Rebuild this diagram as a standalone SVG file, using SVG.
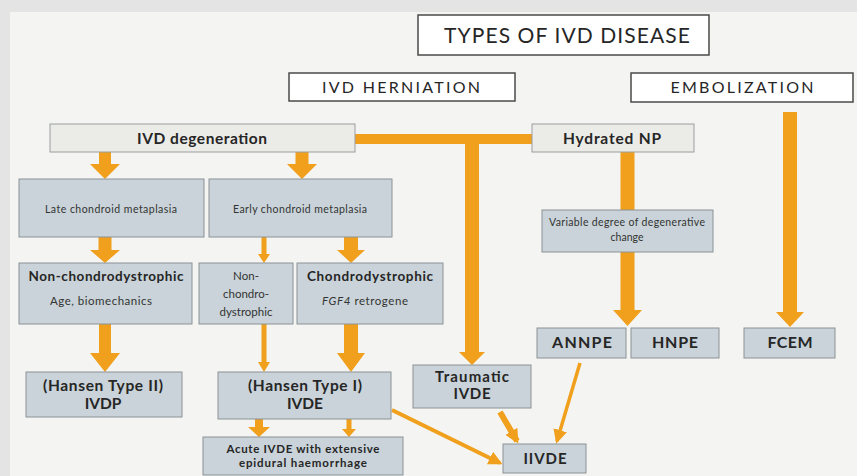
<svg xmlns="http://www.w3.org/2000/svg" width="857" height="476" viewBox="0 0 857 476">
<defs>
<marker id="ah" viewBox="0 0 10 10" refX="8" refY="5" markerUnits="userSpaceOnUse" markerWidth="14" markerHeight="14" orient="auto">
<path d="M0,0 L10,5 L0,10 z" fill="#f0a01c"/>
</marker>
</defs>
<style>
text{font-family:Lato,"Open Sans","DejaVu Sans",sans-serif;fill:#262626;text-anchor:middle}
.title{fill:#ffffff;stroke:#4a4a4a;stroke-width:1.5}
.tt{font-size:21px}
.ht{font-size:16px}
.lite{fill:#ebece8;stroke:#9a9d9f;stroke-width:1}
.box{fill:#c9d3d9;stroke:#8b9296;stroke-width:1}
.b{font-weight:bold}
.s{font-size:10.5px;fill:#333}
.m{font-size:11.5px;fill:#333}
.arr{fill:#f0a01c}
.ln{stroke:#f0a01c;fill:none;marker-end:url(#ah)}
</style>
<rect x="0" y="0" width="857" height="476" fill="#e4e4e4"/>
<rect x="10" y="12" width="847" height="464" fill="#f4f4f2"/>

<g id="connectors">
<rect class="arr" x="355" y="134" width="177" height="10"/>
<polygon class="arr" points="99,152 111,152 111,164 120,164 105,179 90,164 99,164"/>
<polygon class="arr" points="295.5,152 308.5,152 308.5,164 317,164 302,179 287,164 295.5,164"/>
<polygon class="arr" points="98.5,237 111.5,237 111.5,250 120,250 105,263 90,250 98.5,250"/>
<polygon class="arr" points="261.5,237 266.5,237 266.5,254 270,254 264,263 258,254 261.5,254"/>
<polygon class="arr" points="344,237 358,237 358,250 365,250 351,263 337,250 344,250"/>
<polygon class="arr" points="99,324 111,324 111,353 120,353 105,372 90,353 99,353"/>
<polygon class="arr" points="261.5,324 266.5,324 266.5,362 270,362 264,372 258,362 261.5,362"/>
<polygon class="arr" points="344,324 358,324 358,353 365,353 351,372 337,353 344,353"/>
<polygon class="arr" points="255,419 263,419 263,427 270,427 259,437 248,427 255,427"/>
<polygon class="arr" points="346.5,419 351.5,419 351.5,429 356,429 349,437 342,429 346.5,429"/>
<polygon class="arr" points="465,134 479,134 479,352 485,352 472,365 459,352 465,352"/>
<rect class="arr" x="620.5" y="152" width="14" height="58"/>
<polygon class="arr" points="620.5,252 634.5,252 634.5,310 642,310 627.5,326 613,310 620.5,310"/>
<polygon class="arr" points="783,112 797,112 797,312 804,312 790,327 776,312 783,312"/>
<line class="ln" x1="500" y1="412" x2="517" y2="441" stroke-width="6"/>
<line class="ln" x1="580" y1="363" x2="557" y2="441" stroke-width="3.5"/>
<line class="ln" x1="392" y1="410" x2="500" y2="463" stroke-width="4"/>
</g>

<g id="types"><rect class="title" x="418" y="15" width="291" height="40"/><text class="tt" x="567" y="43" textLength="246">TYPES OF IVD DISEASE</text></g>
<g id="herniation"><rect class="title" x="289" y="73" width="226" height="28"/><text class="ht" x="401" y="93" textLength="158">IVD HERNIATION</text></g>
<g id="embolization"><rect class="title" x="631" y="73" width="222" height="29"/><text class="ht" x="742" y="93" textLength="143">EMBOLIZATION</text></g>

<g id="ivd-degeneration"><rect class="lite" x="50" y="124" width="305" height="28"/><text class="b" x="202" y="144" font-size="15.5" textLength="130">IVD degeneration</text></g>
<g id="hydrated-np"><rect class="lite" x="532" y="124" width="162" height="28"/><text class="b" x="612" y="144" font-size="15.5" textLength="98">Hydrated NP</text></g>

<g id="late"><rect class="box" x="19" y="179" width="185" height="58"/><text class="s" x="111" y="213" textLength="132">Late chondroid metaplasia</text></g>
<g id="early"><rect class="box" x="209" y="179" width="183" height="58"/><text class="s" x="300" y="213" textLength="134">Early chondroid metaplasia</text></g>

<g id="non-chondrodystrophic"><rect class="box" x="19" y="263" width="173" height="61"/><text class="b" x="106" y="281" font-size="13.5" textLength="155">Non-chondrodystrophic</text><text class="m" x="101" y="305" textLength="102">Age, biomechanics</text></g>
<g id="non-chondro-small"><rect class="box" x="199" y="263" width="94" height="61"/><text class="m" x="246" y="280">Non-</text><text class="m" x="246" y="298">chondro-</text><text class="m" x="246" y="316">dystrophic</text></g>
<g id="chondrodystrophic"><rect class="box" x="297" y="263" width="146" height="61"/><text class="b" x="370" y="281" font-size="13.5" textLength="126">Chondrodystrophic</text><text class="m" x="365" y="305" textLength="86"><tspan font-style="italic">FGF4</tspan> retrogene</text></g>

<g id="hansen-ii"><rect class="box" x="26" y="372" width="156" height="45"/><text class="b" x="103" y="391" font-size="15.5" textLength="120">(Hansen Type II)</text><text class="b" x="103" y="409" font-size="15.5">IVDP</text></g>
<g id="hansen-i"><rect class="box" x="218" y="372" width="173" height="47"/><text class="b" x="305" y="391" font-size="15.5" textLength="114">(Hansen Type I)</text><text class="b" x="305" y="409" font-size="15.5">IVDE</text></g>
<g id="acute"><rect class="box" x="203" y="437" width="200" height="38"/><text class="b" x="303" y="453" font-size="11.5" textLength="153">Acute IVDE with extensive</text><text class="b" x="303" y="467" font-size="11.5" textLength="128">epidural haemorrhage</text></g>

<g id="traumatic"><rect class="box" x="413" y="365" width="118" height="43"/><text class="b" x="472" y="382" font-size="15" textLength="74">Traumatic</text><text class="b" x="472" y="399" font-size="15" textLength="37">IVDE</text></g>
<g id="iivde"><rect class="box" x="503" y="444" width="83" height="29"/><text class="b" x="545" y="464" font-size="15" textLength="43">IIVDE</text></g>

<g id="variable"><rect class="box" x="542" y="210" width="171" height="42"/><text class="s" x="627" y="226" textLength="156">Variable degree of degenerative</text><text class="s" x="627" y="241">change</text></g>
<g id="annpe"><rect class="box" x="537" y="328" width="89" height="30"/><text class="b" x="582" y="348" font-size="16" textLength="60">ANNPE</text></g>
<g id="hnpe"><rect class="box" x="631" y="328" width="88" height="30"/><text class="b" x="675" y="348" font-size="16" textLength="46">HNPE</text></g>
<g id="fcem"><rect class="box" x="744" y="328" width="91" height="30"/><text class="b" x="790" y="348" font-size="16" textLength="45">FCEM</text></g>
</svg>
